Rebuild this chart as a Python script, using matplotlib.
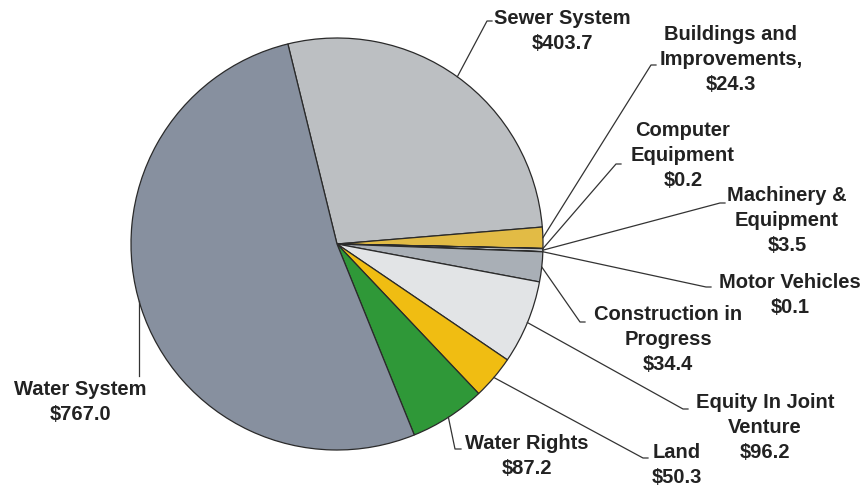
import matplotlib
matplotlib.use('Agg')
import matplotlib.pyplot as plt
import numpy as np

plt.rcParams.update({'font.family': 'Liberation Sans', 'font.weight': 'bold'})

# asset categories, $ millions
names = ['Sewer System', 'Buildings and\nImprovements,', 'Computer\nEquipment',
         'Machinery &\nEquipment', 'Motor Vehicles', 'Construction in\nProgress',
         'Equity In Joint\nVenture', 'Land', 'Water Rights', 'Water System']
values = [403.7, 24.3, 0.2, 3.5, 0.1, 34.4, 96.2, 50.3, 87.2, 767.0]
colors = ['#bcbfc2', '#e2bb45', '#c9ccd0', '#c0c4c8', '#c9ccd0', '#a9afb6',
          '#e2e4e6', '#f0bd12', '#2f9838', '#87909f']

W, H = 864, 489
fig = plt.figure(figsize=(W / 100, H / 100), dpi=100)
ax = fig.add_axes([0, 0, 1, 1])

cx, cy, r = 337, H - 245, 206
wedges, _ = ax.pie(values, colors=colors, startangle=103.8, counterclock=False,
                   center=(cx, cy), radius=r, frame=True,
                   wedgeprops=dict(edgecolor='#2a2a2a', linewidth=0.9))
ax.set_xlim(0, W)
ax.set_ylim(0, H)
ax.set_aspect('equal')
ax.axis('off')

# label block centres and leader end points (pixel coords, y from top)
label_pos = [(562, 31), (731, 60), (683, 156), (787, 221), (790, 295),
             (668, 340), (765, 428), (677, 465), (527, 456), (80, 402)]
leader_end = [(487, 22), (651, 66), (616, 165), (720, 204), (706, 288),
              (580, 323), (683, 410), (643, 459), (455, 450), (139, 377)]
hooks = [5, 5, 5, 5, 5, 5, 5, 5, 6, 0]

for w, name, v, (lx, ly), (ex, ey), hk in zip(wedges, names, values,
                                               label_pos, leader_end, hooks):
    ax.text(lx, H - ly, f'{name}\n${v:.1f}', ha='center', va='center',
            multialignment='center', fontsize=14.5, fontweight='bold',
            color='#222222', linespacing=1.4)
    mid = np.deg2rad((w.theta1 + w.theta2) / 2)
    x0, y0 = cx + r * np.cos(mid), cy + r * np.sin(mid)
    if hk == 0:
        x0 = ex
        y0 = cy - np.sqrt(r**2 - (ex - cx)**2)
    ax.plot([x0, ex, ex + hk], [y0, H - ey, H - ey], color='#333333', lw=0.9)

fig.savefig('out.png', dpi=100)
